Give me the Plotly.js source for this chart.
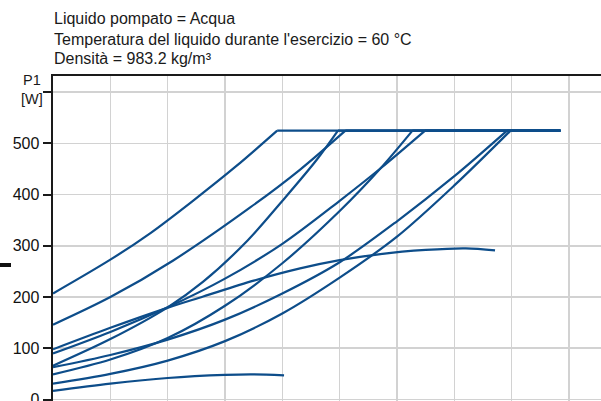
<!DOCTYPE html>
<html>
<head>
<meta charset="utf-8">
<script src="https://cdn.plot.ly/plotly-3.0.1.min.js"></script>
<style>
html, body { margin:0; padding:0; overflow:hidden; background:#fff; }
#chart { width:680px; height:440px; }
</style>
</head>
<body>
<div id="chart"></div>
<script>
// Header lines
const headerLines = [
  "Liquido pompato = Acqua",
  "Temperatura del liquido durante l'esercizio = 60 °C",
  "Densità = 983.2 kg/m³"
];
const yTickVals = [0, 100, 200, 300, 400, 500, 600];
const yTickText = ["0", "100", "200", "300", "400", "500", ""];
const yUnitLabel = "P1<br>[W]";

// Power curves (flow in grid units, P1 in W)
const flowA = [0, 1, 1.7, 2.43, 3.2, 3.91];
const powerA = [207, 273, 325, 387, 456, 525];
const flowB = [0, 1, 2.09, 3.44, 4.3, 5.1];
const powerB = [146, 200, 271, 375, 448, 525];
const flowC = [0, 1, 2, 2.62, 3.39, 4.01, 4.6, 4.97];
const powerC = [66, 118, 180, 230, 310, 389, 468, 525];
const flowD = [0, 1, 2, 3, 4, 5, 5.71, 6.49];
const powerD = [90, 132, 180, 236, 304, 388, 451, 525];
const flowE = [0, 1, 2, 3, 4, 5, 5.71, 6.27];
const powerE = [49, 78, 120, 183, 266, 368, 451, 525];
const flowF = [0, 1, 2, 3, 4, 5, 6, 7, 7.92];
const powerF = [63, 87, 117, 156, 207, 268, 348, 436, 525];
const flowG = [0, 1, 2, 3, 4, 5, 6, 7, 7.98];
const powerG = [31, 50, 76, 114, 168, 238, 318, 418, 525];
const flowH = [0, 1, 1.97, 2.62, 3.5, 4.31, 5, 5.71, 6.5, 7.2, 7.71];
const powerH = [98, 140, 178, 201, 232, 256, 272, 284, 292, 295, 291];
const flowL = [0, 1, 2, 3, 3.5, 4.03];
const powerL = [17, 31, 42, 48, 49, 47];

// Power limit line
const capPower = 525;
const capEndFlow = 8.85;

const lineColor = '#0d4d8a';
const curves = [
  [flowA, powerA], [flowB, powerB], [flowC, powerC], [flowD, powerD],
  [flowE, powerE], [flowF, powerF], [flowG, powerG], [flowH, powerH], [flowL, powerL]
];
const capped = [
  [flowA, powerA], [flowB, powerB], [flowC, powerC], [flowD, powerD],
  [flowE, powerE], [flowF, powerF], [flowG, powerG]
];

const traces = [];
curves.forEach(c => {
  traces.push({
    x: c[0], y: c[1], type: 'scatter', mode: 'lines',
    line: {color: lineColor, width: 2.2, shape: 'spline', smoothing: 0.9},
    hoverinfo: 'skip', showlegend: false
  });
});
capped.forEach(c => {
  const n = c[0].length - 1;
  traces.push({
    x: [c[0][n], capEndFlow], y: [c[1][n], capPower], type: 'scatter', mode: 'lines',
    line: {color: lineColor, width: 2.2},
    hoverinfo: 'skip', showlegend: false
  });
});

const W = 680, H = 440, mL = 53, mT = 76, mR = 25, mB = 20;
const pw = W - mL - mR, ph = H - mT - mB;
function px2paperX(px) { return (px - mL) / pw; }
function py2paperY(py) { return (mT + ph - py) / ph; }

const fontFam = 'Arial, "Liberation Sans", sans-serif';
const annotations = [];
headerLines.forEach((t, i) => {
  annotations.push({
    text: t, xref: 'paper', yref: 'paper', x: px2paperX(52), y: py2paperY(19 + 20 * i),
    xanchor: 'left', yanchor: 'middle', showarrow: false,
    font: {family: fontFam, size: 16, color: '#1a1a1a'}
  });
});
annotations.push({
  text: yUnitLabel, xref: 'paper', yref: 'paper', x: px2paperX(19), y: py2paperY(90),
  xanchor: 'left', yanchor: 'middle', showarrow: false, align: 'center',
  font: {family: fontFam, size: 14.5, color: '#1a1a1a'}
});

const layout = {
  width: W, height: H,
  margin: {l: mL, t: mT, r: mR, b: mB},
  paper_bgcolor: '#fff', plot_bgcolor: '#fff',
  font: {family: fontFam, size: 16, color: '#1a1a1a'},
  showlegend: false,
  xaxis: {
    range: [0, 10.5], dtick: 1, tick0: 0, showticklabels: false, ticks: '',
    showgrid: true, gridcolor: '#d2d2d2', gridwidth: 1.6,
    showline: true, mirror: true, linecolor: '#1a1a1a', linewidth: 2.4, zeroline: false
  },
  yaxis: {
    range: [-40, 631.6], tickvals: yTickVals, ticktext: yTickText,
    ticks: 'outside', ticklen: 8, tickwidth: 2, tickcolor: '#1a1a1a',
    showgrid: true, gridcolor: '#d2d2d2', gridwidth: 1.6,
    showline: true, linecolor: '#1a1a1a', linewidth: 2.4, zeroline: false,
    tickfont: {family: fontFam, size: 16, color: '#111'}
  },
  annotations: annotations,
  shapes: [{
    type: 'rect', xref: 'paper', yref: 'paper',
    x0: px2paperX(0), x1: px2paperX(11), y0: py2paperY(267), y1: py2paperY(263),
    fillcolor: '#111', line: {width: 0}
  }]
};

Plotly.newPlot('chart', traces, layout, {staticPlot: true, displayModeBar: false});
</script>
</body>
</html>
